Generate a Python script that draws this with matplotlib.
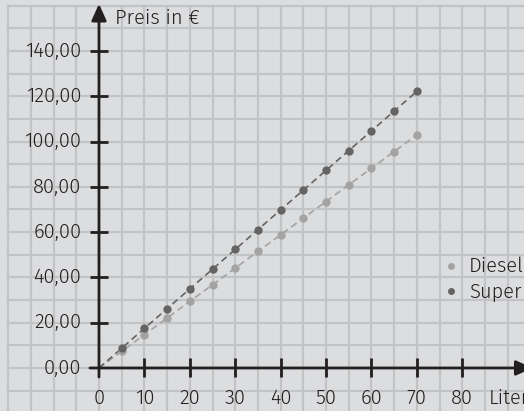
import matplotlib
matplotlib.use("Agg")
import matplotlib.pyplot as plt
import numpy as np

# Fuel quantity in litres and the corresponding price in euros
liters = [5, 10, 15, 20, 25, 30, 35, 40, 45, 50, 55, 60, 65, 70]
diesel = [7.35, 14.70, 22.05, 29.40, 36.75, 44.10, 51.45, 58.80, 66.15, 73.50,
          80.85, 88.20, 95.55, 102.90]
super_ = [8.73, 17.45, 26.18, 34.90, 43.63, 52.35, 61.08, 69.80, 78.53, 87.25,
          95.98, 104.70, 113.43, 122.15]

x_ticks = [0, 10, 20, 30, 40, 50, 60, 70, 80]
y_ticks = [0, 20, 40, 60, 80, 100, 120, 140]
y_tick_labels = ["0,00", "20,00", "40,00", "60,00", "80,00", "100,00", "120,00", "140,00"]

bg = "#dcdddf"
grid_c = "#c2c3c5"
ink = "#231f20"
c_diesel = "#a3a3a3"
c_super = "#646464"

plt.rcParams["font.family"] = ["Fira Sans", "Noto Sans", "DejaVu Sans"]
plt.rcParams["font.weight"] = 300

fig = plt.figure(figsize=(5.24, 4.11), dpi=100, facecolor=bg)
ax = fig.add_axes([0, 0, 1, 1])
ax.set_facecolor(bg)
xmin, xmax = -21.8, 93.6
ymin, ymax = -19.0, 162.5
ax.set_xlim(xmin, xmax)
ax.set_ylim(ymin, ymax)
ax.axis("off")

# squared paper
for gx in np.arange(-20, 95, 5):
    ax.plot([gx, gx], [ymin, 160], color=grid_c, lw=1.6, zorder=1)
for gy in np.arange(-10, 161, 10):
    ax.plot([-20, xmax], [gy, gy], color=grid_c, lw=1.6, zorder=1)

# trend lines through the origin
ax.plot([0] + liters, [0] + diesel, ls=(0, (4, 2.5)), color=c_diesel, lw=1.2, zorder=3)
ax.plot([0] + liters, [0] + super_, ls=(0, (4, 2.5)), color=c_super, lw=1.2, zorder=3)
ax.plot(liters, diesel, "o", ms=6, color=c_diesel, mec="none", zorder=4)
ax.plot(liters, super_, "o", ms=6, color=c_super, mec="none", zorder=4)

# axes with arrows
arrow = dict(arrowstyle="-|>,head_length=1.0,head_width=0.45",
             color=ink, lw=2, shrinkA=0, shrinkB=0)
ax.annotate("", xy=(95.5, 0), xytext=(-2.0, 0), arrowprops=arrow,
            annotation_clip=False, zorder=5)
ax.annotate("", xy=(0, 160.8), xytext=(0, -4.0), arrowprops=arrow,
            annotation_clip=False, zorder=5)

# tick marks
for t in x_ticks[1:]:
    ax.plot([t, t], [-4.2, 4.2], color=ink, lw=2, zorder=5, solid_capstyle="butt")
for t in y_ticks[1:]:
    ax.plot([-2.0, 2.0], [t, t], color=ink, lw=2, zorder=5, solid_capstyle="butt")

fs = 14.5
for t in x_ticks:
    ax.text(t, -13.4, str(t), ha="center", va="center", fontsize=fs, color=ink)
for t, lab in zip(y_ticks, y_tick_labels):
    ax.text(-3.9, t, lab, ha="right", va="center", fontsize=fs, color=ink)

ax.text(3.5, 154.5, "Preis in €", ha="left", va="center", fontsize=fs, color=ink)
ax.text(85.8, -13.4, "Liter", ha="left", va="center", fontsize=fs, color=ink)

# legend
ax.plot([77.5], [45.0], "o", ms=5, color=c_diesel, mec="none", zorder=4)
ax.plot([77.5], [34.0], "o", ms=5, color=c_super, mec="none", zorder=4)
ax.text(81.5, 45.0, "Diesel", ha="left", va="center", fontsize=fs, color=ink)
ax.text(81.5, 34.0, "Super", ha="left", va="center", fontsize=fs, color=ink)

fig.savefig("out.png", dpi=100, facecolor=bg)
